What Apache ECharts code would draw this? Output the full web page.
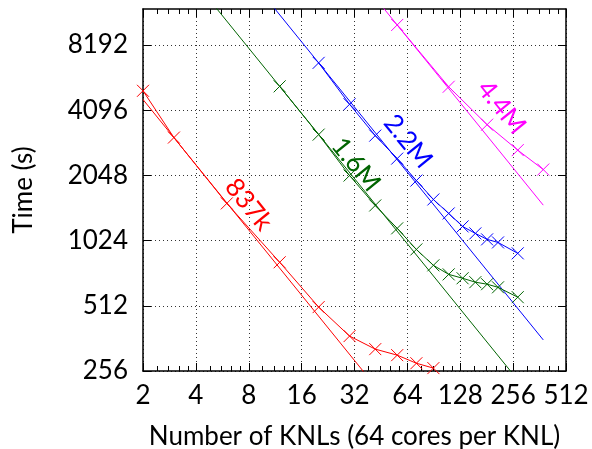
<!DOCTYPE html>
<html>
<head>
<meta charset="utf-8">
<script src="https://cdn.jsdelivr.net/npm/echarts@6/dist/echarts.min.js"></script>
<style>html,body{margin:0;padding:0;background:#fff}#c{width:592px;height:449px}</style>
</head>
<body>
<div id="c"></div>
<script>
// ---- data ----
const knls837k = [2, 3, 6, 12, 20, 30, 42, 56, 72, 90];
const time837k = [5030, 3060, 1520, 813, 505, 371, 323, 303, 278, 264];
const knls16M = [12, 20, 30, 42, 56, 72, 90, 110, 132, 156, 182, 210, 272];
const time16M = [5275, 3157, 2044, 1487, 1166, 932, 787, 715, 686, 658, 644, 623, 561];
const knls22M = [20, 30, 42, 56, 72, 90, 110, 132, 156, 182, 210, 272];
const time22M = [6770, 4359, 3124, 2447, 1937, 1585, 1366, 1190, 1105, 1037, 1004, 894];
const knls44M = [56, 110, 182, 272, 380];
const time44M = [10127, 5250, 3509, 2678, 2178];
// ideal-scaling reference lines (endpoints)
const idealKnls = [2, 380];
const ideal837k = [4585, 24.1];
const ideal16M = [31650, 166.6];
const ideal22M = [67700, 356.3];
const ideal44M = [283600, 1492];
// axis ticks
const xTickLabels = [2, 4, 8, 16, 32, 64, 128, 256, 512];
const yTickLabels = [256, 512, 1024, 2048, 4096, 8192];
const xMin = 2, xMax = 512, yMin = 256, yMax = 12000;
// series labels: [text, knls, time, color]
const seriesLabels = [
  ['837k', 8.0, 1500, '#ff0000'],
  ['1.6M', 32.6, 2300, '#006400'],
  ['2.2M', 64.5, 2940, '#0000ff'],
  ['4.4M', 220, 4220, '#ff00ff']
];

const L2 = Math.log2;
const FONT = 'Lato';
const FS = 26;
function pts(xs, ys) { return xs.map((x, i) => [L2(x), L2(ys[i])]); }

const minorX = [];
for (let k = 0; k < xTickLabels.length - 1; k++) {
  [1.2, 1.4, 1.6, 1.8].forEach(m => minorX.push(L2(xTickLabels[k] * m)));
}
const majorY = yTickLabels.map(L2);

const crossPath = 'path://M0,0L10,10M10,0L0,10';

function dataSeries(xs, ys, color) {
  return {
    type: 'line', data: pts(xs, ys), xAxisIndex: 0, yAxisIndex: 0,
    symbol: crossPath, symbolSize: 12, showSymbol: true,
    itemStyle: { color: 'rgba(0,0,0,0)', borderColor: color, borderWidth: 1 },
    lineStyle: { color: color, width: 1 },
    clip: true, animation: false, silent: true, z: 3
  };
}
function idealSeries(ys, color) {
  return {
    type: 'line', data: pts(idealKnls, ys), xAxisIndex: 0, yAxisIndex: 0,
    symbol: 'none', lineStyle: { color: color, width: 1 },
    clip: true, animation: false, silent: true, z: 2
  };
}

const axisLineStyle = { color: '#000', width: 1.5 };
const gridLineStyle = { color: '#333', width: 1, type: [1, 3] };
const xl = { min: L2(xMin), max: L2(xMax) };
const yl = { min: L2(yMin), max: L2(yMax) };

function fmt(v) {
  const r = Math.round(v);
  if (Math.abs(v - r) > 1e-6) return '';
  return String(Math.round(Math.pow(2, r)));
}

const option = {
  backgroundColor: '#fff',
  animation: false,
  grid: { left: 143, right: 26, top: 9, bottom: 78, containLabel: false, outerBoundsMode: 'none' },
  xAxis: [
    { type: 'value', position: 'bottom', ...xl, interval: 1,
      axisLine: { show: true, lineStyle: axisLineStyle },
      axisTick: { show: true, inside: true, length: 8, lineStyle: { color: '#000', width: 1 } },
      axisLabel: { formatter: fmt, fontFamily: FONT, fontSize: FS, color: '#000', margin: 12, showMinLabel: true, showMaxLabel: true },
      splitLine: { show: true, lineStyle: gridLineStyle },
      name: 'Number of KNLs (64 cores per KNL)', nameLocation: 'middle', nameGap: 53,
      nameTextStyle: { fontFamily: FONT, fontSize: FS, color: '#000' } },
    { type: 'value', position: 'top', ...xl, interval: 1,
      axisLine: { show: true, lineStyle: axisLineStyle },
      axisTick: { show: true, inside: true, length: 8, lineStyle: { color: '#000', width: 1 } },
      axisLabel: { show: false }, splitLine: { show: false } },
    { type: 'value', position: 'bottom', ...xl,
      axisLine: { show: false },
      axisTick: { show: true, inside: true, length: 5, customValues: minorX, lineStyle: { color: '#000', width: 1 } },
      axisLabel: { show: false }, splitLine: { show: false } },
    { type: 'value', position: 'top', ...xl,
      axisLine: { show: false },
      axisTick: { show: true, inside: true, length: 5, customValues: minorX, lineStyle: { color: '#000', width: 1 } },
      axisLabel: { show: false }, splitLine: { show: false } }
  ],
  yAxis: [
    { type: 'value', position: 'left', ...yl, interval: 1,
      axisLine: { show: true, lineStyle: axisLineStyle },
      axisTick: { show: true, inside: true, length: 8, customValues: majorY, lineStyle: { color: '#000', width: 1 } },
      axisLabel: { formatter: fmt, fontFamily: FONT, fontSize: FS, color: '#000', margin: 15, showMaxLabel: false },
      splitLine: { show: true, lineStyle: gridLineStyle },
      name: 'Time (s)', nameLocation: 'middle', nameGap: 106, nameRotate: 90,
      nameTextStyle: { fontFamily: FONT, fontSize: FS, color: '#000' } },
    { type: 'value', position: 'right', ...yl, interval: 1,
      axisLine: { show: true, lineStyle: axisLineStyle },
      axisTick: { show: true, inside: true, length: 8, customValues: majorY, lineStyle: { color: '#000', width: 1 } },
      axisLabel: { show: false }, splitLine: { show: false } }
  ],
  series: [
    idealSeries(ideal837k, '#ff0000'),
    dataSeries(knls837k, time837k, '#ff0000'),
    idealSeries(ideal16M, '#006400'),
    dataSeries(knls16M, time16M, '#006400'),
    idealSeries(ideal22M, '#0000ff'),
    dataSeries(knls22M, time22M, '#0000ff'),
    idealSeries(ideal44M, '#ff00ff'),
    dataSeries(knls44M, time44M, '#ff00ff')
  ]
};

const chart = echarts.init(document.getElementById('c'), null, { renderer: 'canvas' });
chart.setOption(option);

const p00 = chart.convertToPixel({ gridIndex: 0 }, [0, 0]);
const angle = -Math.atan2(
  p00[1] - chart.convertToPixel({ gridIndex: 0 }, [0, 1])[1],
  chart.convertToPixel({ gridIndex: 0 }, [1, 0])[0] - p00[0]
);
chart.setOption({
  graphic: seriesLabels.map(([t, n, v, c]) => {
    const p = chart.convertToPixel({ xAxisIndex: 0, yAxisIndex: 0 }, [L2(n), L2(v)]);
    return {
      type: 'text', x: p[0], y: p[1], rotation: angle, z: 10, silent: true,
      style: { text: t, fill: c, font: FS + 'px ' + FONT, textAlign: 'center', textVerticalAlign: 'middle' }
    };
  })
});
</script>
</body>
</html>
